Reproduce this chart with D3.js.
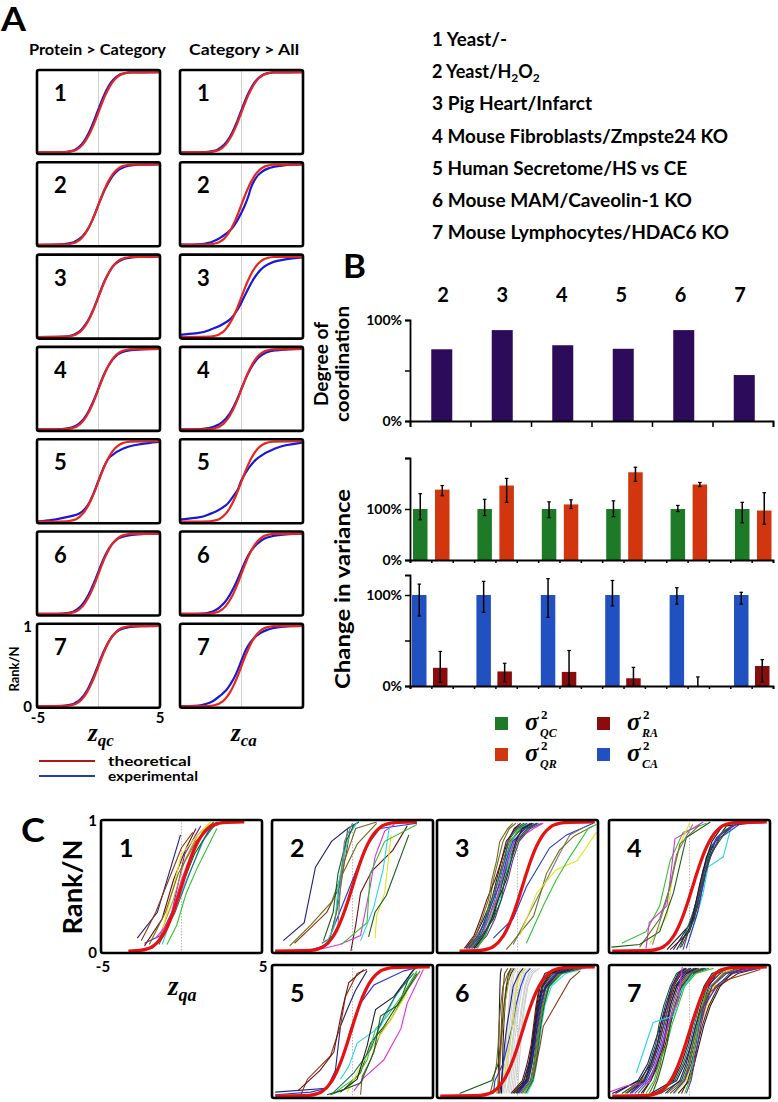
<!DOCTYPE html>
<html><head><meta charset="utf-8">
<script src="https://cdn.jsdelivr.net/npm/d3@7"></script>
<style>
body{margin:0;background:#fff}
svg{display:block}
text{font-family:Lato,"Open Sans",sans-serif;font-weight:700;fill:#000}
.serif{font-family:"Liberation Serif","DejaVu Serif",serif;font-style:italic;font-weight:700}
</style>
</head><body>
<svg id="chart" width="778" height="1102"></svg>
<script>
// ---------------- DATA ----------------
const datasetLabels = ["1 Yeast/-","2 Yeast/H_2O_2","3 Pig Heart/Infarct","4 Mouse Fibroblasts/Zmpste24 KO","5 Human Secretome/HS vs CE","6 Mouse MAM/Caveolin-1 KO","7 Mouse Lymphocytes/HDAC6 KO"];
const panelANumbers = ["1","2","3","4","5","6","7"];
const panelATitles = ["Protein > Category","Category > All"];
const panelAXLabels = ["qc","ca"];

// rank levels (Rank/N) and the z value at these levels
const rankLevels   = [0,0.005,0.02,0.05,0.1,0.2,0.3,0.4,0.5,0.6,0.7,0.8,0.9,0.95,0.98,0.995,1];
const theoreticalZ = [-5.5,-2.58,-2.05,-1.64,-1.28,-0.84,-0.52,-0.25,0,0.25,0.52,0.84,1.28,1.64,2.05,2.58,5.5];

// experimental curves, panel A, "Protein > Category" (z_qc)
const aProteinCategoryZ = [
  [-5.5,-2.7,-2.15,-1.75,-1.38,-0.94,-0.62,-0.35,-0.1,0.15,0.42,0.74,1.18,1.55,1.95,2.6,5.5],
  [-5.5,-3.0,-2.3,-1.8,-1.35,-0.85,-0.52,-0.25,0,0.27,0.56,0.92,1.4,1.85,2.4,3.3,5.5],
  [-5.5,-2.8,-2.2,-1.75,-1.35,-0.88,-0.55,-0.27,-0.02,0.23,0.5,0.84,1.3,1.75,2.3,3.2,5.5],
  [-5.5,-3.0,-2.3,-1.8,-1.38,-0.9,-0.57,-0.28,-0.03,0.22,0.5,0.85,1.35,1.8,2.5,3.5,5.5],
  [-5.5,-4.8,-3.9,-2.8,-1.6,-0.9,-0.55,-0.28,-0.03,0.22,0.5,0.9,1.9,2.9,4.2,5.2,5.8],
  [-5.5,-2.9,-2.25,-1.82,-1.42,-0.95,-0.62,-0.33,-0.07,0.18,0.46,0.8,1.3,1.8,2.6,3.8,5.5],
  [-5.5,-2.9,-2.25,-1.8,-1.4,-0.92,-0.6,-0.32,-0.06,0.2,0.48,0.82,1.3,1.75,2.4,3.5,5.5]
];
// experimental curves, panel A, "Category > All" (z_ca)
const aCategoryAllZ = [
  [-5.5,-2.9,-2.25,-1.8,-1.4,-0.92,-0.6,-0.32,-0.07,0.18,0.45,0.78,1.22,1.6,2.0,2.6,5.5],
  [-5.5,-3.6,-2.8,-2.2,-1.6,-0.8,-0.35,0.0,0.3,0.55,0.75,1.05,1.6,2.2,3.1,4.2,5.5],
  [-6.5,-6.2,-5.6,-3.6,-2.4,-1.1,-0.5,-0.1,0.22,0.55,0.9,1.35,2.1,3.0,4.3,5.4,6],
  [-5.5,-3.3,-2.6,-2.0,-1.5,-0.95,-0.58,-0.28,-0.02,0.25,0.55,0.92,1.45,1.95,2.7,3.8,5.5],
  [-6.5,-6.2,-5.4,-3.6,-2.5,-1.3,-0.75,-0.3,-0.05,0.3,0.75,1.4,2.6,3.6,4.8,5.6,6],
  [-5.5,-3.2,-2.6,-2.1,-1.65,-1.1,-0.72,-0.4,-0.12,0.15,0.45,0.85,1.5,2.1,3.0,4.2,5.5],
  [-5.5,-3.8,-3.1,-2.5,-2.0,-1.25,-0.8,-0.45,-0.18,0.08,0.35,0.75,1.45,2.1,2.9,4.0,5.5]
];

// panel B
const groups = ["2","3","4","5","6","7"];
const coordination = [0.71,0.90,0.75,0.715,0.90,0.455];
const sigmaQC   = [1,1,1,1,1,1];
const sigmaQCHi = [1.30,1.19,1.14,1.16,1.07,1.13];
const sigmaQCLo = [0.79,0.87,0.83,0.85,0.95,0.73];
const sigmaQR   = [1.38,1.46,1.09,1.72,1.48,0.97];
const sigmaQRHi = [1.46,1.60,1.18,1.82,1.52,1.32];
const sigmaQRLo = [1.26,1.13,1.01,1.54,1.44,0.70];
const sigmaCA   = [1,1,1,1,1,1];
const sigmaCAHi = [1.12,1.15,1.18,1.16,1.08,1.03];
const sigmaCALo = [0.77,0.81,0.755,0.88,0.90,0.90];
const sigmaRA   = [0.20,0.16,0.155,0.085,0,0.22];
const sigmaRAHi = [0.38,0.25,0.39,0.205,0.10,0.29];
const sigmaRALo = [0.04,0.045,0.01,0,0,0.045];
const legendKeys = [["QC","#1d7a26"],["QR","#d2360f"],["RA","#8a0c0c"],["CA","#2150c0"]];

// panel C : thin line palette
const cPalette = ["#1f1f78","#2238d8","#8a3b12","#6e0f0f","#6e6e1c","#1c5a1c","#2fc42f","#e4e41c","#26d6e6","#e02ce0","#1e7070","#6a2a9a","#1e1e1e","#7a7a7a","#d08a20","#cdcdcd"];
const cLevels = [0.02,0.12,0.25,0.4,0.55,0.7,0.85,0.95,0.99];
const cTheoryStart = [-3.3,-4.8,-3.6,-4.8,-4.8,-4.8,-4.8];
const cTheoryEnd   = [3.9,4.0,4.8,4.8,4.8,4.8,4.8];
const cTheoryShift = [0,0,0.3,0.2,-0.1,0.3,0];

// free-form lines: [paletteIndex, [[z, rank], ...]]
const cBox1Lines = [
 [0,[[-2.75,0.1],[-1.5,0.3],[-0.06,0.9]]],
 [2,[[-2.5,0.08],[-1.6,0.3],[-0.8,0.55],[0,0.8],[0.7,0.92]]],
 [3,[[-2.3,0.04],[-1.2,0.25],[-0.5,0.55],[0.3,0.8],[0.9,0.95]]],
 [11,[[-2.3,0.06],[-1.3,0.12],[-0.6,0.3],[0.2,0.75],[1.2,0.97]]],
 [14,[[-1.4,0.1],[-0.5,0.4],[0.2,0.7],[1,0.9],[2,1]]],
 [7,[[-1.2,0.15],[-0.5,0.5],[0,0.75],[1,0.9],[1.8,1]]],
 [9,[[-1.6,0.1],[-0.8,0.22],[0,0.55],[0.9,0.85],[2.2,1]]],
 [8,[[-1.2,0.05],[-0.5,0.3],[0.3,0.55],[1.0,0.75],[1.6,0.92],[2.3,1]]],
 [6,[[-0.9,0.05],[-0.3,0.2],[0.3,0.45],[1.0,0.65],[1.6,0.8],[2.2,0.95]]],
 [5,[[-1.8,0.02],[-0.8,0.2],[0,0.5],[0.8,0.75],[1.8,0.95],[2.5,1]]],
 [10,[[-1.4,0.05],[-0.4,0.3],[0.5,0.6],[1.3,0.85],[2.2,1]]],
 [4,[[-2,0.05],[-1,0.3],[-0.2,0.6],[0.9,0.85],[2,1]]]
];
const cBox2Lines = [
 [0,[[-4.3,0.08],[-3.0,0.22],[-2.3,0.65],[-1.3,0.85],[-0.3,0.95],[0.4,1]]],
 [1,[[-4.8,0],[-2.5,0.01],[-1.6,0.05],[-0.8,0.3],[0,0.55],[0.8,0.8],[1.7,0.95],[4.0,0.99]]],
 [2,[[-3.6,0.06],[-2.6,0.18],[-1.6,0.3],[-0.8,0.5],[-0.4,0.75],[-0.15,0.93]]],
 [4,[[-3.9,0.04],[-2.6,0.2],[-1.3,0.38],[-0.8,0.55],[0.3,0.83],[1.5,0.99]]],
 [10,[[-1.9,0.06],[-1.4,0.1],[-1.0,0.3],[-0.8,0.55],[-0.5,0.75],[-0.3,0.95],[0.4,1]]],
 [8,[[-1.7,0.04],[-1.1,0.2],[-0.9,0.5],[-0.6,0.7],[-0.2,0.9],[0.3,1.0]]],
 [5,[[-1.8,0.08],[-1.2,0.3],[-0.9,0.6],[-0.4,0.85],[0.1,0.98]]],
 [3,[[-0.1,0],[0.2,0.2],[0.5,0.45],[1.2,0.62],[2.5,0.78],[3.4,0.97]]],
 [9,[[-1.8,0.02],[-0.8,0.05],[0.5,0.12],[1.1,0.5],[1.4,0.73],[2.0,0.93],[2.6,0.98]]],
 [8,[[0.5,0.08],[1.3,0.33],[1.9,0.63],[2.25,0.93],[2.35,0.99]]],
 [7,[[1.4,0.1],[1.5,0.27],[2.0,0.45],[2.4,0.9]]],
 [6,[[-0.7,0.05],[0.9,0.22],[1.1,0.6],[2.0,0.85],[4.0,0.98]]],
 [5,[[1.0,0.11],[1.4,0.3],[2.1,0.43],[3.5,0.9]]],
 [4,[[-1.3,0.15],[-0.9,0.35],[-0.5,0.7],[0.2,0.95],[1.5,1]]],
 [13,[[-1.5,0.05],[-0.9,0.2],[-0.7,0.6],[-0.5,0.85],[0.0,0.99]]]
];
const cBox3Level = [
 [12,[-3.2,-2.6,-2.1,-1.6,-1.3,-1.0,-0.6,-0.2,0.2]],
 [10,[-3.0,-2.3,-1.8,-1.4,-1.1,-0.8,-0.4,0.2,0.8]],
 [4,[-2.9,-2.4,-2.0,-1.7,-1.5,-1.2,-0.9,-0.5,-0.1]],
 [0,[-3.1,-2.2,-1.5,-1.2,-0.9,-0.6,-0.2,0.4,1.0]],
 [5,[-2.7,-2.0,-1.6,-1.3,-0.9,-0.5,-0.1,0.6,1.3]],
 [3,[-3.3,-2.7,-2.3,-1.9,-1.4,-1.0,-0.7,-0.1,0.4]],
 [8,[-2.8,-2.1,-1.7,-1.1,-0.8,-0.5,-0.3,0.0,0.5]],
 [11,[-2.6,-1.9,-1.4,-1.0,-0.6,-0.3,0.1,0.8,1.5]],
 [2,[-3.0,-2.5,-1.9,-1.5,-1.2,-0.9,-0.5,0.3,0.9]],
 [6,[-2.5,-2.0,-1.7,-1.2,-1.0,-0.7,-0.4,0.1,0.6]],
 [1,[-3.2,-2.4,-2.0,-1.5,-1.0,-0.7,-0.3,0.5,1.2]],
 [9,[-2.9,-2.2,-1.8,-1.3,-1.0,-0.6,-0.2,1.0,1.6]],
 [4,[-3.1,-2.6,-2.2,-1.8,-1.6,-1.3,-1.1,-0.6,-0.3]],
 [12,[-2.7,-2.1,-1.6,-1.2,-0.7,-0.4,-0.1,0.3,0.9]],
 [10,[-3.0,-2.3,-1.9,-1.6,-1.2,-0.8,-0.6,0.0,0.6]],
 [5,[-2.8,-2.2,-1.5,-1.0,-0.8,-0.4,0.0,0.7,1.2]]
];
const cBox3Lines = [
 [1,[[-1.5,0.1],[-0.27,0.25],[0.56,0.5],[2.0,0.8],[3.05,0.9],[4.7,0.99]]],
 [13,[[-0.27,0.05],[1.6,0.5],[2.6,0.75],[3.25,0.9],[4.3,0.97]]],
 [4,[[-0.7,0.01],[1.0,0.27],[1.8,0.6],[2.6,0.78],[3.5,0.89],[4.7,0.97]]],
 [7,[[0.15,0.12],[1.2,0.45],[2.4,0.63],[3.7,0.7],[4.9,0.92]]],
 [6,[[0.55,0.06],[1.6,0.35],[2.4,0.55],[3.25,0.73],[4.4,0.95],[4.9,0.98]]]
];
const cBox4Lines = [
 [6,[[-4.2,0.06],[-2.7,0.15],[-1.85,0.35],[-1.2,0.7],[-0.4,0.92],[1.05,0.99]]],
 [9,[[-2.7,0.02],[-2.5,0.22],[-1.4,0.35],[-0.9,0.87],[0.2,0.95],[0.85,1]]],
 [7,[[-2.5,0.05],[-1.4,0.27],[-1.0,0.63],[-0.5,0.85],[0,0.99]]],
 [4,[[-3.1,0.03],[-1.85,0.25],[-1.2,0.5],[-0.6,0.83],[0.65,0.98]]],
 [5,[[-4.85,0.03],[-3.1,0.05],[-1.85,0.15],[-1.0,0.45],[-0.2,0.88],[1.3,1.0]]],
 [13,[[-2.3,0.05],[-1.4,0.4],[-0.8,0.75],[0.2,0.98]]],
 [12,[[-1.4,0.01],[0,0.2],[0.45,0.4],[0.85,0.63],[1.5,0.83],[2.3,0.97],[3.75,0.99]]],
 [0,[[-1.0,0.01],[0.23,0.25],[0.65,0.45],[1.05,0.73],[1.7,0.88],[2.7,0.98]]],
 [10,[[-0.6,0.02],[0.23,0.3],[0.85,0.58],[1.27,0.8],[2.1,0.93],[3.0,0.99]]],
 [8,[[0,0.1],[0.45,0.27],[0.85,0.45],[1.15,0.65],[2.1,0.73],[2.6,0.97]]],
 [3,[[-1.2,0.01],[0,0.15],[0.65,0.4],[1.15,0.7],[1.9,0.88],[2.7,0.97]]],
 [11,[[-0.4,0.01],[0.33,0.32],[0.95,0.63],[1.9,0.9],[2.9,0.98]]],
 [1,[[-0.2,0.02],[0.5,0.3],[1.0,0.6],[1.6,0.85],[3.2,0.99]]],
 [12,[[-0.8,0.01],[0.1,0.2],[0.6,0.5],[1.0,0.7],[1.4,0.85],[2.0,0.96]]],
 [5,[[-0.5,0.03],[0.3,0.25],[0.75,0.5],[1.3,0.75],[2.4,0.95]]]
];
const cBox5Lines = [
 [0,[[-4.8,0.03],[-1.58,0.06],[-1.06,0.2],[-0.75,0.54],[-0.33,0.67],[0.19,0.82],[0.9,0.97]]],
 [2,[[-3.24,0],[-2.8,0.13],[-1.37,0.31],[-0.75,0.54],[-0.44,0.77],[0.29,0.95],[0.9,0.98]]],
 [3,[[-3.4,0.04],[-2.0,0.2],[-1.16,0.34],[-0.64,0.67],[-0.23,0.88],[0.7,0.98]]],
 [1,[[-4.8,0.01],[-2.6,0.03],[-1.58,0.06],[-0.64,0.28],[-0.12,0.52],[0.5,0.72],[1.33,0.86],[3.2,0.97],[4.2,1]]],
 [5,[[-1.58,0.01],[-0.54,0.05],[0.5,0.18],[1.12,0.41],[1.95,0.54],[3.0,0.75],[3.6,0.95],[4.0,1]]],
 [6,[[-0.95,0.04],[0.29,0.15],[0.91,0.28],[1.43,0.52],[2.16,0.62],[3.2,0.8],[4.0,0.97]]],
 [4,[[0.5,0.01],[0.6,0.15],[1.12,0.28],[1.74,0.49],[2.37,0.59],[3.4,0.82],[4.2,0.97]]],
 [7,[[-0.33,0.03],[0.5,0.23],[1.54,0.44],[2.37,0.59],[3.4,0.8]]],
 [8,[[-0.75,0.13],[-0.23,0.23],[0.29,0.41],[1.74,0.54],[2.57,0.75],[3.8,0.98]]],
 [9,[[0.08,0.04],[0.7,0.14],[1.95,0.28],[3.0,0.52],[3.4,0.72],[4.4,0.98]]],
 [10,[[-1.16,0.03],[0.08,0.18],[1.12,0.36],[1.95,0.62],[2.78,0.8],[3.8,0.95]]],
 [12,[[-0.75,0.03],[0.29,0.13],[0.91,0.39],[1.43,0.67],[2.57,0.77],[3.8,0.98]]],
 [5,[[-1.37,0.01],[0.5,0.1],[1.33,0.34],[1.74,0.62],[2.78,0.7],[4.0,0.95]]]
];
const cBox6Gray = [
 [-1.0,-0.9,-0.8,-0.7,-0.6,-0.5,-0.35,-0.2,0.0],
 [-0.8,-0.7,-0.6,-0.45,-0.35,-0.2,-0.05,0.15,0.4],
 [-0.6,-0.5,-0.4,-0.3,-0.15,0.0,0.2,0.4,0.7],
 [-0.4,-0.3,-0.2,-0.05,0.1,0.25,0.45,0.7,1.0],
 [-0.9,-0.75,-0.6,-0.5,-0.4,-0.25,-0.1,0.1,0.3],
 [-0.2,-0.1,0.0,0.1,0.25,0.4,0.6,0.9,1.3],
 [-1.1,-0.95,-0.85,-0.75,-0.65,-0.55,-0.45,-0.3,-0.1],
 [-0.7,-0.55,-0.45,-0.35,-0.2,-0.05,0.1,0.3,0.55],
 [0.0,0.05,0.1,0.2,0.3,0.45,0.65,0.95,1.4],
 [-0.5,-0.4,-0.3,-0.2,-0.05,0.1,0.3,0.55,0.85],
 [-0.95,-0.85,-0.7,-0.6,-0.5,-0.35,-0.2,0.0,0.2],
 [-0.3,-0.2,-0.1,0.0,0.15,0.3,0.5,0.8,1.15]
];
const cBox6Level = [
 [12,[-1.2,-1.19,-1.18,-1.16,-1.14,-1.12,-1.09,-1.06,-1.0]],
 [12,[-1.0,-0.97,-0.93,-0.9,-0.85,-0.78,-0.68,-0.4,-0.2]],
 [14,[-1.3,-1.2,-1.1,-1.0,-0.9,-0.8,-0.6,-0.48,-0.3]],
 [0,[-1.1,-1.0,-0.88,-0.8,-0.65,-0.45,-0.27,0.1,0.35]],
 [4,[-1.7,-1.5,-1.3,-1.2,-1.15,-1.05,-0.9,-0.6,-0.4]],
 [5,[-3.6,-1.6,-1.2,-1.05,-0.95,-0.85,-0.7,-0.55,-0.4]],
 [1,[-1.5,-1.4,-0.9,-0.6,-0.3,-0.1,0.2,0.5,0.8]],
 [7,[-1.5,-0.8,-0.7,-0.5,-0.3,-0.15,-0.05,0.2,0.5]],
 [2,[-1.15,-1.12,-1.1,-1.05,-1.0,-0.95,-0.88,-0.8,-0.6]],
 [12,[-0.3,0.4,0.7,0.9,1.05,1.2,1.4,1.9,2.8]],
 [5,[0.0,0.6,0.85,1.0,1.15,1.35,1.6,2.2,3.2]],
 [10,[0.2,0.8,1.0,1.15,1.3,1.5,1.8,2.5,3.6]],
 [12,[-0.2,0.5,0.75,0.95,1.1,1.25,1.5,2.0,3.0]],
 [6,[0.4,0.9,1.1,1.25,1.4,1.6,2.0,2.8,3.9]],
 [11,[0.1,0.7,0.9,1.1,1.2,1.4,1.7,2.3,3.4]],
 [3,[-0.4,0.3,0.6,0.85,1.0,1.15,1.35,1.7,2.5]],
 [8,[0.6,1.0,1.2,1.35,1.5,1.7,2.1,3.0,4.2]],
 [4,[0.3,0.85,1.05,1.2,1.35,1.55,1.9,2.6,3.7]],
 [12,[-0.1,0.55,0.8,0.95,1.1,1.3,1.55,2.1,2.9]],
 [5,[0.5,0.95,1.15,1.3,1.45,1.65,1.95,2.7,4.0]],
 [0,[0.0,0.65,0.9,1.05,1.25,1.45,1.75,2.4,3.3]]
];
const cBox6Lines = [
 [2,[[1.0,0.15],[1.4,0.39],[1.6,0.54],[2.2,0.67],[3.26,0.9],[3.9,0.97]]],
 [0,[[0.2,0.05],[0.6,0.2],[1.0,0.4],[1.2,0.6],[1.5,0.8],[2.5,0.95],[3.6,0.99]]]
];
const cBox7Level = [
 [0,[-4.6,-3.2,-2.6,-2.2,-1.8,-1.5,-1.1,-0.6,-0.2]],
 [12,[-3.9,-2.8,-2.3,-1.9,-1.6,-1.3,-0.9,-0.3,0.4]],
 [11,[-3.4,-2.6,-2.0,-1.7,-1.4,-1.1,-0.7,-0.1,0.8]],
 [5,[-4.2,-3.0,-2.5,-2.1,-1.9,-1.6,-1.2,-0.8,-0.3]],
 [3,[-2.9,-2.4,-1.9,-1.5,-1.2,-0.9,-0.5,0.2,1.0]],
 [1,[-3.6,-2.7,-2.2,-1.8,-1.5,-1.2,-0.8,-0.4,0.3]],
 [4,[-2.5,-2.1,-1.8,-1.6,-1.3,-1.0,-0.6,0.0,0.6]],
 [12,[-4.8,-3.1,-2.4,-2.0,-1.7,-1.4,-1.0,-0.5,0.1]],
 [10,[-3.2,-2.5,-2.1,-1.7,-1.3,-0.8,-0.4,0.3,1.2]],
 [2,[-4.0,-2.9,-2.3,-2.0,-1.6,-1.3,-1.0,-0.6,0.0]],
 [6,[-2.7,-2.2,-1.9,-1.4,-1.1,-0.7,-0.3,0.4,1.5]],
 [0,[-3.7,-2.8,-2.4,-2.0,-1.8,-1.4,-1.1,-0.7,-0.2]],
 [12,[-3.0,-2.4,-2.0,-1.6,-1.4,-1.2,-0.8,-0.2,0.5]],
 [5,[-2.3,-2.0,-1.7,-1.4,-1.2,-0.9,-0.5,0.1,0.9]],
 [12,[-2.2,-0.8,-0.3,0.1,0.4,0.7,1.1,1.9,3.0]],
 [5,[-1.8,-0.5,-0.1,0.2,0.5,0.9,1.4,2.3,3.5]],
 [2,[-1.2,-0.3,0.0,0.3,0.6,1.0,1.6,2.7,4.0]],
 [7,[-0.9,-0.2,0.1,0.4,0.7,1.1,1.5,2.0,2.8]],
 [0,[-1.5,-0.6,-0.2,0.1,0.4,0.8,1.2,1.7,2.5]],
 [3,[-0.5,-0.1,0.2,0.5,0.8,1.2,1.8,3.0,4.3]],
 [10,[-2.0,-0.9,-0.4,0.0,0.3,0.6,1.0,1.6,2.4]],
 [12,[-0.7,0.0,0.3,0.6,0.9,1.3,1.9,2.6,3.4]],
 [4,[-1.4,-0.4,0.0,0.2,0.5,0.8,1.3,2.1,3.2]],
 [11,[-0.2,0.1,0.3,0.5,0.7,1.0,1.4,2.2,3.8]],
 [1,[-1.0,-0.3,0.1,0.4,0.6,0.9,1.7,2.5,4.4]],
 [12,[-2.4,-1.0,-0.5,-0.1,0.2,0.5,0.9,1.4,2.2]],
 [6,[-0.3,0.0,0.2,0.35,0.55,0.8,1.1,1.5,2.0]]
];
const cBox7Lines = [
 [8,[[-3.3,0.18],[-2.26,0.57],[-1.0,0.62],[-0.6,0.8],[0.2,0.95]]],
 [9,[[-5,0.03],[-3.9,0.08],[-2.5,0.1],[-1.8,0.35],[-1.2,0.6],[-0.7,0.75],[-0.45,1.0]]],
 [2,[[0.5,0.6],[1.2,0.8],[2.3,0.9],[4.4,0.98]]]
];
const cBoxes = [
 {n:"1",free:cBox1Lines,level:[],gray:[]},
 {n:"2",free:cBox2Lines,level:[],gray:[]},
 {n:"3",free:cBox3Lines,level:cBox3Level,gray:[]},
 {n:"4",free:cBox4Lines,level:[],gray:[]},
 {n:"5",free:cBox5Lines,level:[],gray:[]},
 {n:"6",free:cBox6Lines,level:cBox6Level,gray:cBox6Gray},
 {n:"7",free:cBox7Lines,level:cBox7Level,gray:[]}
];

// ---------------- DRAWING ----------------
const svg = d3.select("#chart");
const defs = svg.append("defs");
let clipN = 0;
function clip(x,y,w,h){const id="cl"+(clipN++);defs.append("clipPath").attr("id",id).append("rect").attr("x",x).attr("y",y).attr("width",w).attr("height",h);return "url(#"+id+")";}
function T(x,y,s,size,o={}){
  const t=svg.append("text").attr("x",x).attr("y",y).attr("font-size",size).text(s);
  if(o.anchor) t.attr("text-anchor",o.anchor);
  if(o.len) t.attr("textLength",o.len).attr("lengthAdjust","spacingAndGlyphs");
  if(o.rot) t.attr("transform",`rotate(-90,${x},${y})`);
  if(o.cls) t.attr("class",o.cls);
  return t;
}

// ---- Panel A ----
T(1,31,"A",32,{len:25}).attr("font-family","Liberation Sans, Arial, sans-serif");
T(29,55,panelATitles[0],15,{len:137});
T(189,55,panelATitles[1],15,{len:110});
const aColX=[37,180], aW=123, aH=84;
const aData=[aProteinCategoryZ,aCategoryAllZ];
for(let c=0;c<2;c++){
  for(let i=0;i<7;i++){
    const x0=aColX[c], y0=70+i*92.3;
    const xs=d3.scaleLinear().domain([-5,5]).range([x0,x0+aW]);
    const ys=d3.scaleLinear().domain([0,1]).range([y0+aH-1.5,y0+2]);
    svg.append("line").attr("x1",xs(0)).attr("x2",xs(0)).attr("y1",y0).attr("y2",y0+aH).attr("stroke","#d0d0d0").attr("stroke-width",1);
    const g=svg.append("g").attr("clip-path",clip(x0,y0,aW,aH));
    const ln=d3.line().x(d=>xs(d[0])).y(d=>ys(d[1])).curve(d3.curveMonotoneY);
    g.append("path").datum(rankLevels.map((r,k)=>[aData[c][i][k],r])).attr("d",ln).attr("fill","none").attr("stroke","#1818d8").attr("stroke-width",2.2);
    g.append("path").datum(rankLevels.map((r,k)=>[theoreticalZ[k],r])).attr("d",ln).attr("fill","none").attr("stroke","#e8261c").attr("stroke-width",2.2);
    svg.append("rect").attr("x",x0).attr("y",y0).attr("width",aW).attr("height",aH).attr("rx",2).attr("fill","none").attr("stroke","#000").attr("stroke-width",2.6);
    T(x0+17,y0+31,panelANumbers[i],22);
  }
  const sub=svg.append("text").attr("class","serif").attr("x",aColX[c]+51).attr("y",741).attr("font-size",25);
  sub.append("tspan").text("z");
  sub.append("tspan").attr("font-size",17).attr("dy",5).text(panelAXLabels[c]);
}
// axis labels of A row 7
T(32,632,"1",15,{anchor:"end"});
T(32,712,"0",15,{anchor:"end"});
T(38,723,"-5",15,{anchor:"middle"});
T(160,723,"5",15,{anchor:"middle"});
T(19,669,"Rank/N",13,{anchor:"middle",rot:true});
// legend A
svg.append("line").attr("x1",39).attr("x2",95).attr("y1",761).attr("y2",761).attr("stroke","#b01818").attr("stroke-width",2);
svg.append("line").attr("x1",39).attr("x2",95).attr("y1",776).attr("y2",776).attr("stroke","#2040b0").attr("stroke-width",2);
T(108,766,"theoretical",14,{len:83});
T(108,781,"experimental",14,{len:90});

// dataset list
datasetLabels.forEach((s,i)=>{
  const t=svg.append("text").attr("x",432).attr("y",46+i*32.2).attr("font-size",18);
  const parts=s.split(/(_\d)/).filter(p=>p.length);
  let prevSub=false;
  parts.forEach(p=>{
    if(p.startsWith("_")){ t.append("tspan").attr("font-size",12).attr("dy",4).text(p.slice(1)); prevSub=true; }
    else { const sp=t.append("tspan").text(p); if(prevSub) sp.attr("dy",-4); prevSub=false; }
  });
  const lens=[75,null,160,296,255,260,297];
  if(lens[i]) t.attr("textLength",lens[i]).attr("lengthAdjust","spacingAndGlyphs");
});

// ---- Panel B ----
T(343,278,"B",32,{len:23}).attr("font-family","Liberation Sans, Arial, sans-serif");
const hdr=d3.scalePoint().domain(groups).range([443,740]);
groups.forEach(gn=>T(hdr(gn),302,gn,20,{anchor:"middle"}));
const bX0=410,bX1=773;
// coordination chart
const xC=d3.scaleBand().domain(groups).range([bX0,bX1]);
const yC=d3.scaleLinear().domain([0,1]).range([421,320]);
svg.selectAll(".cbar").data(coordination).enter().append("rect")
  .attr("x",(d,i)=>xC(groups[i])+xC.bandwidth()/2-9).attr("width",21)
  .attr("y",d=>yC(d)).attr("height",d=>yC(0)-yC(d)).attr("fill","#2c0b5a");
svg.append("g").attr("transform",`translate(${bX0},0)`).call(d3.axisLeft(yC).tickValues([0,0.5,1]).tickSize(5).tickFormat(d=>d===0.5?"":d3.format(".0%")(d)));
svg.append("g").attr("transform","translate(0,421)").call(d3.axisBottom(d3.scaleLinear().domain([0,6]).range([bX0,bX1])).ticks(6).tickSize(6).tickFormat(""));
// variance charts
const xV=d3.scaleBand().domain(groups).range([bX0,bX0+6*64.4]);
const yV1=d3.scaleLinear().domain([0,2]).range([560,458]);
const yV2=d3.scaleLinear().domain([0,1.22]).range([686,575]);
function bars(vals,hi,lo,ys,off,color){
  const g=svg.append("g");
  vals.forEach((v,i)=>{
    const x=xV(groups[i])+off;
    g.append("rect").attr("x",x).attr("width",14.5).attr("y",ys(v)).attr("height",ys(0)-ys(v)).attr("fill",color);
    const cx=x+7.25;
    g.append("line").attr("x1",cx).attr("x2",cx).attr("y1",ys(hi[i])).attr("y2",ys(lo[i])).attr("stroke","#000").attr("stroke-width",1.5);
    [hi[i],lo[i]].forEach(e=>{ if(e>0) g.append("line").attr("x1",cx-1.8).attr("x2",cx+1.8).attr("y1",ys(e)).attr("y2",ys(e)).attr("stroke","#000").attr("stroke-width",1.2);});
  });
}
bars(sigmaQC,sigmaQCHi,sigmaQCLo,yV1,3,legendKeys[0][1]);
bars(sigmaQR,sigmaQRHi,sigmaQRLo,yV1,25,legendKeys[1][1]);
bars(sigmaCA,sigmaCAHi,sigmaCALo,yV2,2,legendKeys[3][1]);
bars(sigmaRA,sigmaRAHi,sigmaRALo,yV2,23,legendKeys[2][1]);
const pct=d=>(d===0||d===1)?d3.format(".0%")(d):"";
svg.append("g").attr("transform",`translate(${bX0},0)`).call(d3.axisLeft(yV1).tickValues([0,1,2]).tickSize(5).tickFormat(pct));
svg.append("g").attr("transform",`translate(${bX0},0)`).call(d3.axisLeft(yV2).tickValues([0,0.5,1]).tickSize(5).tickFormat(pct));
const minor=d3.scaleLinear().domain([0,17]).range([bX0,bX1]);
svg.append("g").attr("transform","translate(0,560)").call(d3.axisBottom(minor).ticks(17).tickSize(3).tickFormat(""));
svg.append("g").attr("transform","translate(0,686)").call(d3.axisBottom(minor).ticks(17).tickSize(3).tickFormat(""));
svg.selectAll(".domain").attr("stroke","#000").attr("stroke-width",1.8);
svg.selectAll(".tick line").attr("stroke","#000").attr("stroke-width",1.5);
svg.selectAll(".tick text").attr("font-size",14).attr("font-family","Lato, sans-serif").attr("font-weight",700).attr("fill","#000");
// y titles
T(328,364,"Degree of",18,{anchor:"middle",rot:true,len:84});
T(349,364,"coordination",18,{anchor:"middle",rot:true,len:116});
T(350,589,"Change in variance",20,{anchor:"middle",rot:true,len:200});
// legend B
legendKeys.forEach(([k,col],i)=>{
  const cx=i<2?495:597, cy=i%2===0?717:748;
  svg.append("rect").attr("x",cx).attr("y",cy).attr("width",13).attr("height",13).attr("fill",col);
  const tx=cx+30;
  T(tx,cy+13,"σ",25,{cls:"serif"});
  T(tx+16,cy+2,"2",13,{cls:"serif"}).style("font-style","normal");
  T(tx+15,cy+20,k,12,{cls:"serif"});
});

// ---- Panel C ----
T(21,842,"C",32,{len:24}).attr("font-family","Liberation Sans, Arial, sans-serif");
const cPos=[[101,820],[272,820],[437,820],[609,820],[272,965],[437,965],[609,965]];
const cW=161,cH=133;
cBoxes.forEach((b,bi)=>{
  const [x0,y0]=cPos[bi];
  const xs=d3.scaleLinear().domain([-5,5]).range([x0,x0+cW]);
  const ys=d3.scaleLinear().domain([0,1]).range([y0+cH-2,y0+2]);
  svg.append("line").attr("x1",xs(0)).attr("x2",xs(0)).attr("y1",y0).attr("y2",y0+cH).attr("stroke","#bbb").attr("stroke-width",1).attr("stroke-dasharray","1.5,1.5");
  const g=svg.append("g").attr("clip-path",clip(x0,y0,cW,cH));
  const ln=d3.line().x(d=>xs(d[0])).y(d=>ys(d[1]));
  b.gray.forEach(zs=>g.append("path").datum(cLevels.map((r,k)=>[zs[k],r])).attr("d",ln).attr("fill","none").attr("stroke",cPalette[15]).attr("stroke-width",1));
  b.level.forEach(([ci,zs])=>g.append("path").datum(cLevels.map((r,k)=>[zs[k],r])).attr("d",ln).attr("fill","none").attr("stroke",cPalette[ci]).attr("stroke-width",1.1));
  b.free.forEach(([ci,pts])=>g.append("path").datum(pts).attr("d",ln).attr("fill","none").attr("stroke",cPalette[ci]).attr("stroke-width",1.1));
  const sh=cTheoryShift[bi];
  const th=[[cTheoryStart[bi],0]].concat(rankLevels.slice(1,-1).map((r,k)=>[theoreticalZ[k+1]+sh,r])).concat([[cTheoryEnd[bi],1]]);
  g.append("path").datum(th).attr("d",ln.curve(d3.curveMonotoneY)).attr("fill","none").attr("stroke","#e81010").attr("stroke-width",3.2);
  svg.append("rect").attr("x",x0).attr("y",y0).attr("width",cW).attr("height",cH).attr("rx",2).attr("fill","none").attr("stroke","#000").attr("stroke-width",2.6);
  T(x0+18,y0+37,b.n,25);
});
T(97,826,"1",15,{anchor:"end"});
T(97,958,"0",15,{anchor:"end"});
T(103,972,"-5",15,{anchor:"middle"});
T(263,972,"5",15,{anchor:"middle"});
T(82,887,"Rank/N",27,{anchor:"middle",rot:true,len:95});
{
  const s=svg.append("text").attr("class","serif").attr("x",168).attr("y",995).attr("font-size",27);
  s.append("tspan").text("z");
  s.append("tspan").attr("font-size",18).attr("dy",6).text("qa");
}
</script>
</body></html>
